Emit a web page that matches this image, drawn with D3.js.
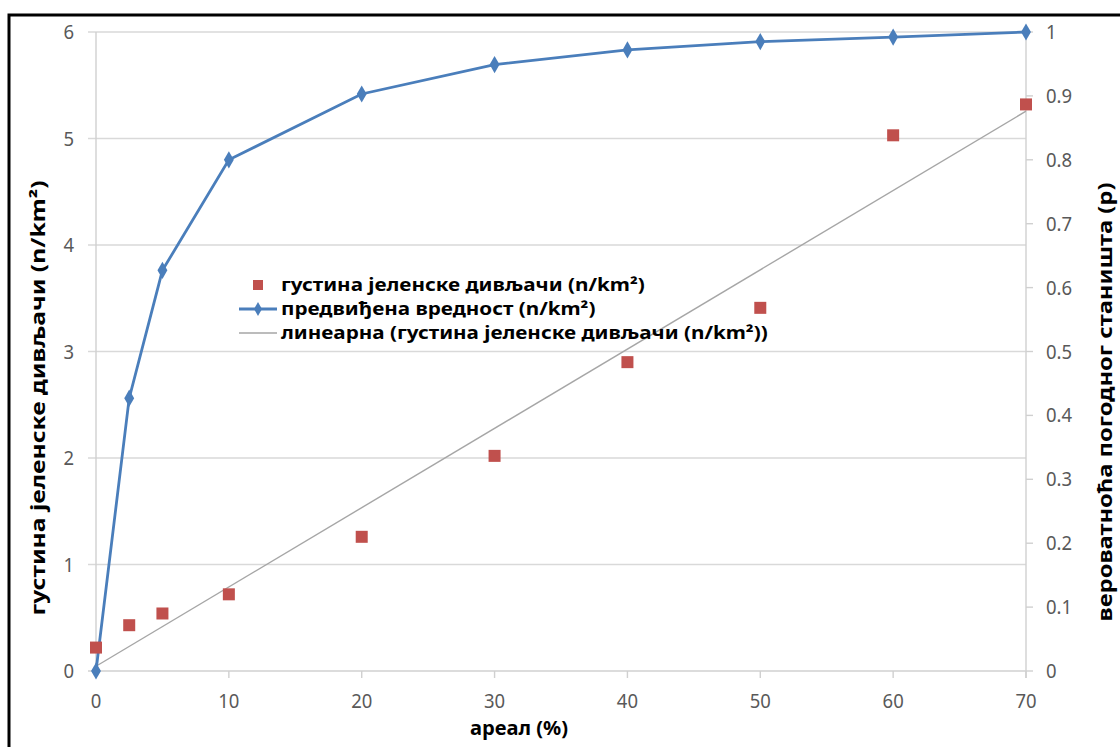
<!DOCTYPE html>
<html>
<head>
<meta charset="utf-8">
<script src="https://cdnjs.cloudflare.com/ajax/libs/d3/7.8.5/d3.min.js"></script>
<style>
  body { margin: 0; background: #fff; }
  svg { font-family: "Noto Sans", "Open Sans", sans-serif; }
</style>
</head>
<body>
<div id="chart"></div>
<script>
const areal = [0, 2.5, 5, 10, 20, 30, 40, 50, 60, 70];
const density = [0.22, 0.43, 0.54, 0.72, 1.26, 2.02, 2.90, 3.41, 5.03, 5.32];
const probability = [0, 0.427, 0.627, 0.80, 0.903, 0.949, 0.972, 0.985, 0.992, 1.0];
const xTicks = [0, 10, 20, 30, 40, 50, 60, 70];
const leftTicks = [0, 1, 2, 3, 4, 5, 6];
const rightTicks = [0, 0.1, 0.2, 0.3, 0.4, 0.5, 0.6, 0.7, 0.8, 0.9, 1];
const legendLabels = [
  "густина јеленске дивљачи (n/km²)",
  "предвиђена вредност (n/km²)",
  "линеарна (густина јеленске дивљачи (n/km²))"
];

const W = 1120, H = 747;
const svg = d3.select('#chart').append('svg').attr('width', W).attr('height', H);

// frame
svg.append('rect').attr('x', 9).attr('y', 15).attr('width', W + 20).attr('height', H + 20)
  .attr('fill', 'none').attr('stroke', '#000').attr('stroke-width', 3);

const x = d3.scaleLinear().domain([0, 70]).range([96, 1026]);
const yL = d3.scaleLinear().domain([0, 6]).range([671, 32]);
const yR = d3.scaleLinear().domain([0, 1]).range([671, 32]);

// gridlines
svg.append('g').selectAll('line').data(leftTicks.filter(d => d > 0)).enter().append('line')
  .attr('x1', 88).attr('x2', 1026).attr('y1', d => yL(d)).attr('y2', d => yL(d))
  .style('stroke', '#d9d9d9').style('stroke-width', 1.4);

// axes lines
const axCol = '#d0d0d0';
svg.append('line').attr('x1', 88).attr('x2', 1026).attr('y1', yL(0)).attr('y2', yL(0))
  .style('stroke', axCol).style('stroke-width', 1.4);
svg.append('line').attr('x1', 96).attr('x2', 96).attr('y1', yL(6)).attr('y2', yL(0))
  .style('stroke', axCol).style('stroke-width', 1.4);
svg.append('line').attr('x1', 1026).attr('x2', 1026).attr('y1', yR(1)).attr('y2', yR(0) + 7)
  .style('stroke', axCol).style('stroke-width', 1.4);

// x ticks
svg.append('g').selectAll('line').data(xTicks).enter().append('line')
  .attr('x1', d => x(d)).attr('x2', d => x(d)).attr('y1', yL(0)).attr('y2', yL(0) + 7)
  .style('stroke', axCol).style('stroke-width', 1.4);
// right ticks
svg.append('g').selectAll('line').data(rightTicks).enter().append('line')
  .attr('x1', 1026).attr('x2', 1033).attr('y1', d => yR(d)).attr('y2', d => yR(d))
  .style('stroke', axCol).style('stroke-width', 1.4);

// tick labels (source picture is slightly stretched vertically)
const tickStyle = sel => sel.style('font-size', '18.5px').style('fill', '#595959');
svg.append('g').selectAll('text').data(xTicks).enter().append('text')
  .attr('transform', d => `translate(${x(d)},708) scale(1,1.12)`).attr('text-anchor', 'middle')
  .text(d => d).call(tickStyle);
svg.append('g').selectAll('text').data(leftTicks).enter().append('text')
  .attr('transform', d => `translate(74,${yL(d) + 7}) scale(1,1.12)`).attr('text-anchor', 'end')
  .text(d => d).call(tickStyle);
svg.append('g').selectAll('text').data(rightTicks).enter().append('text')
  .attr('transform', d => `translate(1046,${yR(d) + 7}) scale(1,1.12)`).attr('text-anchor', 'start')
  .text(d => d).call(tickStyle);

// axis titles
svg.append('text').attr('transform', 'translate(519,735) scale(1.06,1)').attr('text-anchor', 'middle')
  .style('font-size', '19px').style('font-weight', 'bold').text('ареал (%)');
svg.append('text').attr('transform', 'translate(45,398) rotate(-90) scale(1.3,1)').attr('text-anchor', 'middle')
  .style('font-size', '19px').style('font-weight', 'bold').text('густина јеленске дивљачи (n/km²)');
svg.append('text').attr('transform', 'translate(1112,402) rotate(-90) scale(1.25,1)').attr('text-anchor', 'middle')
  .style('font-size', '19px').style('font-weight', 'bold').text('вероватноћа погодног станишта (p)');

// linear trend of density
const mx = d3.mean(areal), my = d3.mean(density);
const slope = d3.sum(areal, (v, i) => (v - mx) * (density[i] - my)) / d3.sum(areal, v => (v - mx) * (v - mx));
const icpt = my - slope * mx;
svg.append('line').attr('x1', x(0)).attr('y1', yL(icpt)).attr('x2', x(70)).attr('y2', yL(icpt + slope * 70))
  .style('stroke', '#a6a6a6').style('stroke-width', 1.4);

// predicted line
const blue = '#4a7ebb';
const line = d3.line().x((d, i) => x(areal[i])).y(d => yR(d));
svg.append('path').attr('d', line(probability)).attr('fill', 'none')
  .style('stroke', blue).style('stroke-width', 2.8);
const diamond = d3.symbol().type(d3.symbolDiamond).size(85);
svg.append('g').selectAll('path').data(probability).enter().append('path')
  .attr('d', diamond).attr('transform', (d, i) => `translate(${x(areal[i])},${yR(d)})`)
  .attr('fill', blue);

// density squares
const red = '#c0504d';
svg.append('g').selectAll('rect').data(density).enter().append('rect')
  .attr('x', (d, i) => x(areal[i]) - 6).attr('y', d => yL(d) - 6)
  .attr('width', 12).attr('height', 12).attr('fill', red);

// legend
const lg = svg.append('g');
const ly = [285, 309, 333];
lg.append('rect').attr('x', 253).attr('y', ly[0] - 5).attr('width', 10).attr('height', 10).attr('fill', red);
lg.append('line').attr('x1', 239).attr('x2', 277).attr('y1', ly[1]).attr('y2', ly[1])
  .style('stroke', blue).style('stroke-width', 2.8);
lg.append('path').attr('d', d3.symbol().type(d3.symbolDiamond).size(55)).attr('transform', `translate(258,${ly[1]})`).attr('fill', blue);
lg.append('line').attr('x1', 239).attr('x2', 277).attr('y1', ly[2]).attr('y2', ly[2])
  .style('stroke', '#a6a6a6').style('stroke-width', 1.4);
lg.selectAll('text').data(legendLabels).enter().append('text')
  .attr('transform', (d, i) => `translate(281,${ly[i] + 6}) scale(1.18,1)`)
  .style('font-size', '17.5px').style('font-weight', 'bold').text(d => d);
</script>
</body>
</html>
